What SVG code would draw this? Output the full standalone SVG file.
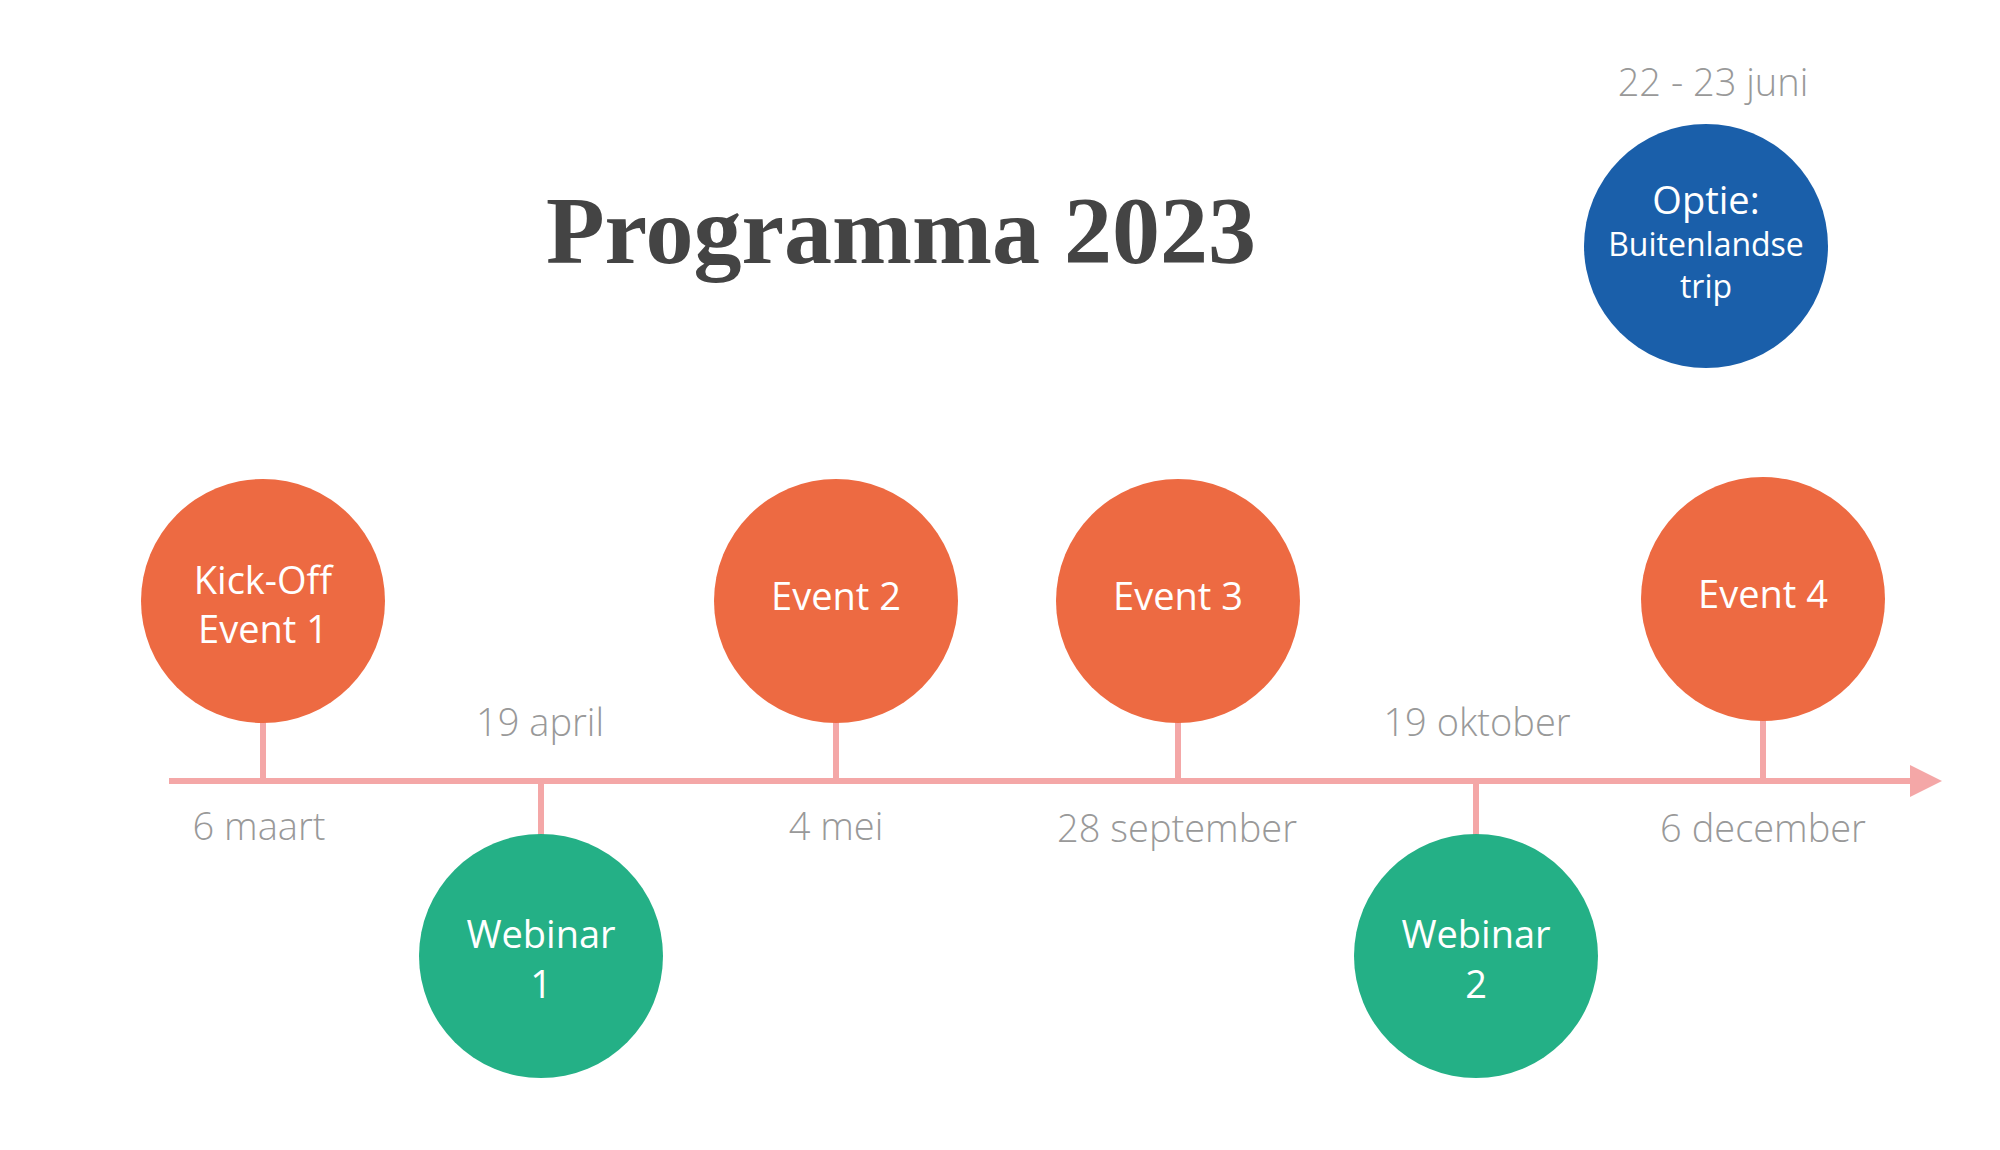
<svg xmlns="http://www.w3.org/2000/svg" width="2000" height="1150" viewBox="0 0 2000 1150">
<style>
.o{fill:#ED6A42}.g{fill:#24B086}.b{fill:#1A5FAA}
.t{font-family:"Open Sans","Liberation Sans",sans-serif;font-size:38px;fill:#fff;text-anchor:middle}
.d{font-family:"Open Sans","Liberation Sans",sans-serif;font-weight:300;font-size:38px;fill:#999;text-anchor:middle}
.ln{stroke:#F4A7A7;stroke-width:6;fill:none}
</style>
<rect width="2000" height="1150" fill="#fff"/>
<text x="901" y="263" font-family="'Liberation Serif',serif" font-weight="bold" font-size="96" fill="#444" text-anchor="middle">Programma 2023</text>
<g id="connectors">
<line class="ln" x1="169" y1="781" x2="1915" y2="781"/>
<polygon points="1910,765 1942,781 1910,797" fill="#F4A7A7"/>
<line class="ln" x1="263" y1="720" x2="263" y2="781"/>
<line class="ln" x1="836" y1="720" x2="836" y2="781"/>
<line class="ln" x1="1178" y1="720" x2="1178" y2="781"/>
<line class="ln" x1="1763" y1="718" x2="1763" y2="781"/>
<line class="ln" x1="541" y1="781" x2="541" y2="836"/>
<line class="ln" x1="1476" y1="781" x2="1476" y2="836"/>
</g>
<g id="kickoff"><circle class="o" cx="263" cy="601" r="122"/><text class="t" x="263" y="594">Kick-Off</text><text class="t" x="263" y="643">Event 1</text></g>
<g id="event2"><circle class="o" cx="836" cy="601" r="122"/><text class="t" x="836" y="610">Event 2</text></g>
<g id="event3"><circle class="o" cx="1178" cy="601" r="122"/><text class="t" x="1178" y="610">Event 3</text></g>
<g id="event4"><circle class="o" cx="1763" cy="599" r="122"/><text class="t" x="1763" y="608">Event 4</text></g>
<g id="webinar1"><circle class="g" cx="541" cy="956" r="122"/><text class="t" x="541" y="948">Webinar</text><text class="t" x="541" y="998">1</text></g>
<g id="webinar2"><circle class="g" cx="1476" cy="956" r="122"/><text class="t" x="1476" y="948">Webinar</text><text class="t" x="1476" y="998">2</text></g>
<g id="optie"><circle class="b" cx="1706" cy="246" r="122"/><text class="t" x="1706" y="214" font-size="32">Optie:</text><text class="t" x="1706" y="256" style="font-size:32px">Buitenlandse</text><text class="t" x="1706" y="298" style="font-size:32px">trip</text></g>
<g id="dates">
<text class="d" x="259" y="840">6 maart</text>
<text class="d" x="540" y="736">19 april</text>
<text class="d" x="836" y="840">4 mei</text>
<text class="d" x="1177" y="842">28 september</text>
<text class="d" x="1477" y="736">19 oktober</text>
<text class="d" x="1763" y="842">6 december</text>
<text class="d" x="1713" y="96">22 - 23 juni</text>
</g>
</svg>
